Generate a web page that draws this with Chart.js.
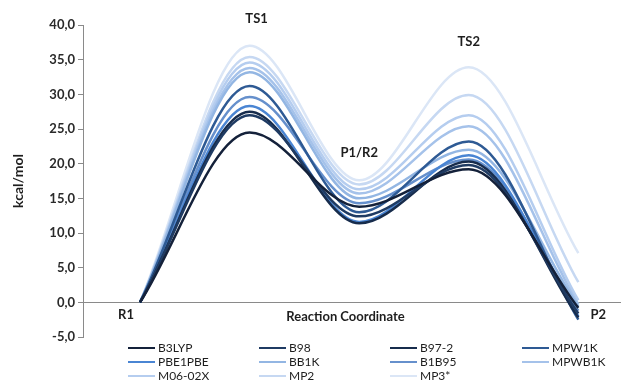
<!DOCTYPE html>
<html>
<head>
<meta charset="utf-8">
<script src="https://cdn.jsdelivr.net/npm/chart.js@4/dist/chart.umd.min.js"></script>
<style>
  html, body { margin: 0; padding: 0; background: #fff; }
  #wrap { position: relative; width: 622px; height: 385px; overflow: hidden; }
  #c { position: absolute; left: 0; top: 0; }
  #legend { position: absolute; left: 0; top: 340px; width: 622px; height: 45px; font-family: Lato, "Open Sans", sans-serif; font-size: 12px; color: #1e1e1e; }
  .item { position: absolute; height: 14px; line-height: 14px; white-space: nowrap; }
  .item .sw { display: inline-block; width: 27px; height: 2.5px; vertical-align: middle; margin-right: 3px; position: relative; top: -1px; }
</style>
</head>
<body>
<div id="wrap">
  <canvas id="c" width="622" height="385"></canvas>
  <div id="legend"></div>
</div>
<script>
// ---- data ----
const categories = ['R1', 'TS1', 'P1/R2', 'TS2', 'P2'];
const yTickValues = [-5, 0, 5, 10, 15, 20, 25, 30, 35, 40];
const seriesNames = ['B3LYP', 'B98', 'B97-2', 'MPW1K', 'PBE1PBE', 'BB1K', 'B1B95', 'MPWB1K', 'M06-02X', 'MP2', 'MP3*'];
const B3LYP   = [0, 24.5, 13.8, 19.2, -0.8];
const B98     = [0, 27.0, 12.4, 19.8, -1.6];
const B97_2   = [0, 27.5, 11.4, 20.3, -2.2];
const MPW1K   = [0, 31.2, 13.0, 23.2, -2.5];
const PBE1PBE = [0, 28.3, 11.6, 21.2, -2.0];
const BB1K    = [0, 33.2, 15.0, 22.0, -0.6];
const B1B95   = [0, 29.6, 14.3, 20.6, -1.2];
const MPWB1K  = [0, 33.8, 15.7, 25.4, -0.3];
const M06_02X = [0, 34.6, 16.3, 27.0, 0.3];
const MP2     = [0, 35.4, 17.0, 29.9, 2.9];
const MP3     = [0, 37.0, 17.6, 33.9, 7.1];
const seriesValues = [B3LYP, B98, B97_2, MPW1K, PBE1PBE, BB1K, B1B95, MPWB1K, M06_02X, MP2, MP3];

// ---- styles ----
const colors = ['#14213a', '#1f3b63', '#172c4c', '#2e5a94', '#4a85d3', '#93b6e3', '#6690cc', '#a5c2ea', '#b5cdef', '#c6d8f2', '#dbe6f6'];
const FONT = 'Lato, "Open Sans", sans-serif';

const datasets = seriesNames.map((name, i) => ({
  label: name,
  data: seriesValues[i].map((v, k) => ({ x: k, y: v })),
  borderColor: colors[i],
  backgroundColor: colors[i],
  borderWidth: 2.5,
  pointRadius: 0,
  fill: false,
  cubicInterpolationMode: 'monotone'
}));

const textPlugin = {
  id: 'texts',
  afterDraw(chart) {
    const { ctx, scales: { x, y } } = chart;
    ctx.save();
    ctx.fillStyle = '#1e1e1e';
    ctx.textAlign = 'center';
    ctx.textBaseline = 'middle';
    ctx.font = 'bold 13px ' + FONT;
    const maxAt = k => Math.max(...seriesValues.map(s => s[k]));
    ctx.fillText(categories[0], x.getPixelForValue(0) - 14, y.getPixelForValue(0) + 12);
    ctx.fillText(categories[1], x.getPixelForValue(1) + 7, y.getPixelForValue(maxAt(1)) - 27);
    ctx.fillText(categories[2], x.getPixelForValue(2), y.getPixelForValue(maxAt(2)) - 27);
    ctx.fillText(categories[3], x.getPixelForValue(3), y.getPixelForValue(maxAt(3)) - 25);
    ctx.fillText(categories[4], x.getPixelForValue(4) + 20, y.getPixelForValue(0) + 12);
    ctx.fillText('Reaction Coordinate', (chart.chartArea.left + chart.chartArea.right) / 2 - 6, y.getPixelForValue(0) + 14);
    ctx.restore();
  }
};

new Chart(document.getElementById('c'), {
  type: 'line',
  data: { datasets },
  options: {
    responsive: false,
    animation: false,
    layout: { padding: { top: 25, right: 2, bottom: 48, left: 0 } },
    plugins: { legend: { display: false }, tooltip: { enabled: false } },
    scales: {
      x: {
        type: 'linear',
        min: -0.52,
        max: 4.38,
        position: { y: 0 },
        ticks: { display: false },
        grid: { display: false },
        border: { display: true, color: '#8a8a8a', width: 1 }
      },
      y: {
        type: 'linear',
        min: -5,
        max: 40,
        afterBuildTicks(scale) { scale.ticks = yTickValues.map(v => ({ value: v })); },
        afterFit(scale) { scale.width = 83; },
        ticks: {
          padding: 3,
          color: '#2a2a2a',
          font: { family: FONT, size: 13, weight: 'bold' },
          callback: v => v.toFixed(1).replace('.', ',')
        },
        grid: { drawOnChartArea: false, drawTicks: true, tickLength: 5, color: '#8a8a8a' },
        border: { display: true, color: '#8a8a8a', width: 1 },
        title: { display: true, text: 'kcal/mol', color: '#1e1e1e', font: { family: FONT, size: 14, weight: 'bold' }, padding: { top: 10, bottom: 0 } }
      }
    }
  },
  plugins: [textPlugin]
});

// ---- legend ----
const legend = document.getElementById('legend');
const colX = [128, 259, 390, 522];
const rowY = [1, 15, 29];
seriesNames.forEach((name, i) => {
  const d = document.createElement('div');
  d.className = 'item';
  d.style.left = colX[i % 4] + 'px';
  d.style.top = rowY[Math.floor(i / 4)] + 'px';
  const sw = document.createElement('span');
  sw.className = 'sw';
  sw.style.background = colors[i];
  d.appendChild(sw);
  d.appendChild(document.createTextNode(name));
  legend.appendChild(d);
});
</script>
</body>
</html>
